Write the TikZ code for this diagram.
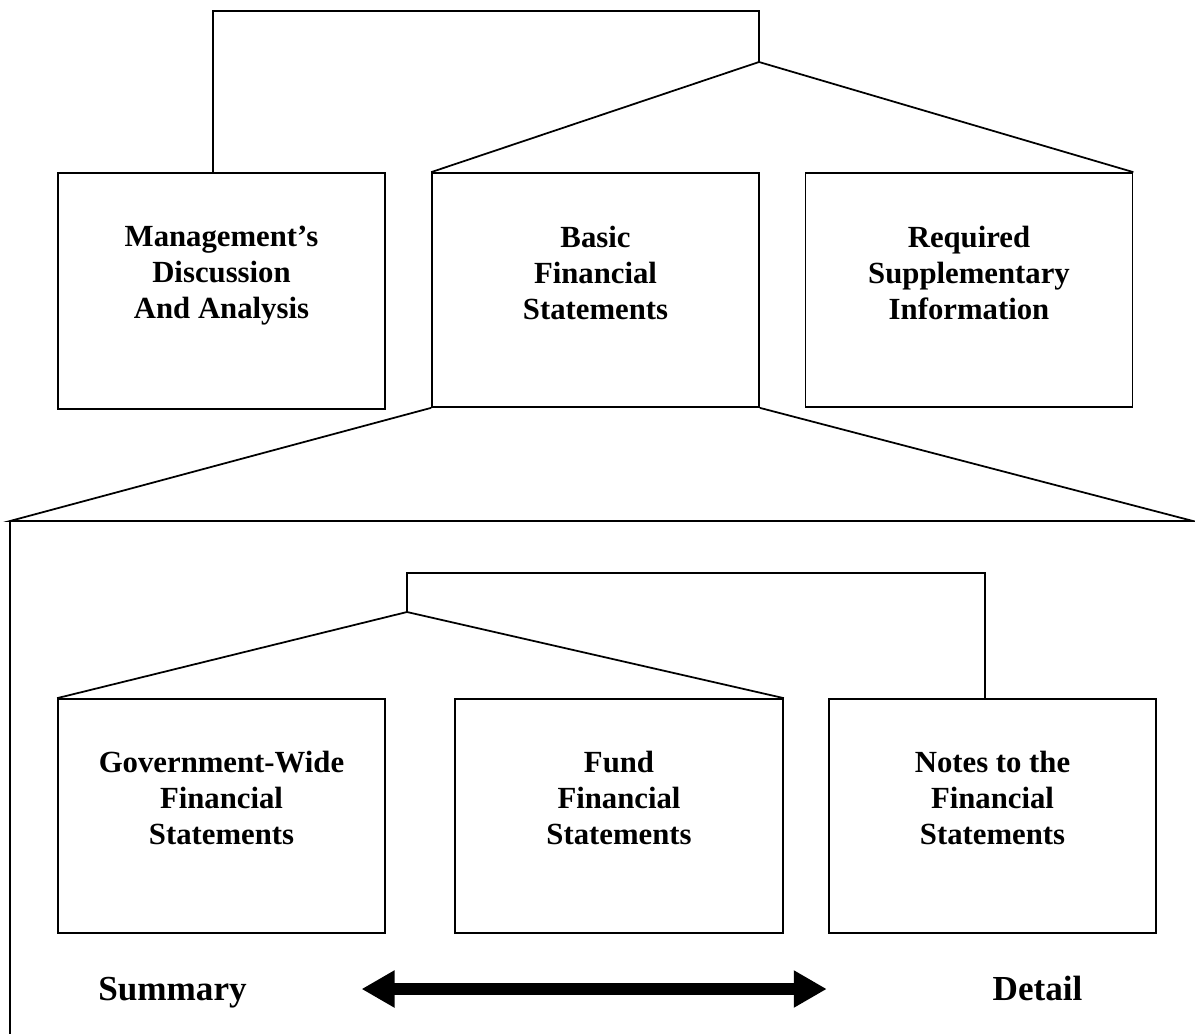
\documentclass[tikz,border=0pt]{standalone}
\usepackage{fontspec}
\setmainfont{Liberation Serif}
\usetikzlibrary{arrows.meta}

\begin{document}
\begin{tikzpicture}[x=0.02cm,y=-0.02cm,line width=1pt,
    part/.style={draw,minimum width=6.54cm,minimum height=4.68cm},
    parttext/.style={anchor=north,align=center,inner sep=0pt,
      font=\fontsize{17.5}{20.4}\selectfont\bfseries},
    endtext/.style={anchor=base,inner sep=0pt,font=\fontsize{20}{24}\selectfont\bfseries}]
  \useasboundingbox (0,0) rectangle (1195,1034);
  \node[part,minimum height=4.72cm] (mda) at (221.5,291) {};
  \node[part] (bfs) at (595.5,290) {};
  \node[part] (rsi) at (969,290) {};
  \node[parttext] (mdatext) at ([yshift=-1.06cm]mda.north) {Management’s\\Discussion\\And Analysis};
  \node[parttext] (bfstext) at ([yshift=-1.06cm]bfs.north) {Basic\\Financial\\Statements};
  \node[parttext] (rsitext) at ([yshift=-1.06cm]rsi.north) {Required\\Supplementary\\Information};
  \coordinate (hub1) at (759,62);
  \draw (hub1) -- (bfs.north west);
  \draw (hub1) -- (rsi.north east);
  \draw ([xshift=-0.17cm]mda.north) -- ++(0,-161) -| (hub1);
  \coordinate (cornerl) at (10,521);
  \coordinate (cornerr) at (1193,521);
  \draw (bfs.south west) -- (cornerl) -- (cornerr) -- (bfs.south east);
  \draw (cornerl) -- ++(0,513);
  \node[part] (gw) at (221.5,816) {};
  \node[part,minimum width=6.56cm] (fund) at (619,816) {};
  \node[part] (notes) at (992.5,816) {};
  \node[parttext] (gwtext) at ([yshift=-1.04cm]gw.north) {Government-Wide\\Financial\\Statements};
  \node[parttext] (fundtext) at ([yshift=-1.04cm]fund.north) {Fund\\Financial\\Statements};
  \node[parttext] (notestext) at ([yshift=-1.04cm]notes.north) {Notes to the\\Financial\\Statements};
  \coordinate (hub2) at (407,612);
  \draw (gw.north west) -- (hub2) -- (fund.north east);
  \draw (hub2) -- ++(0,-39) -| ([xshift=-0.15cm]notes.north);
  \node[endtext] (summary) at (172.5,1000) {Summary};
  \node[endtext] (detail) at (1037.5,1000) {Detail};
  \draw[line width=6.5pt,{Triangle[length=0.66cm,width=0.7cm]}-{Triangle[length=0.66cm,width=0.7cm]}]
    ([shift={(2.28cm,0.22cm)}]summary.base east) -- ([shift={(-3.3cm,0.22cm)}]detail.base west);
\end{tikzpicture}
\end{document}
